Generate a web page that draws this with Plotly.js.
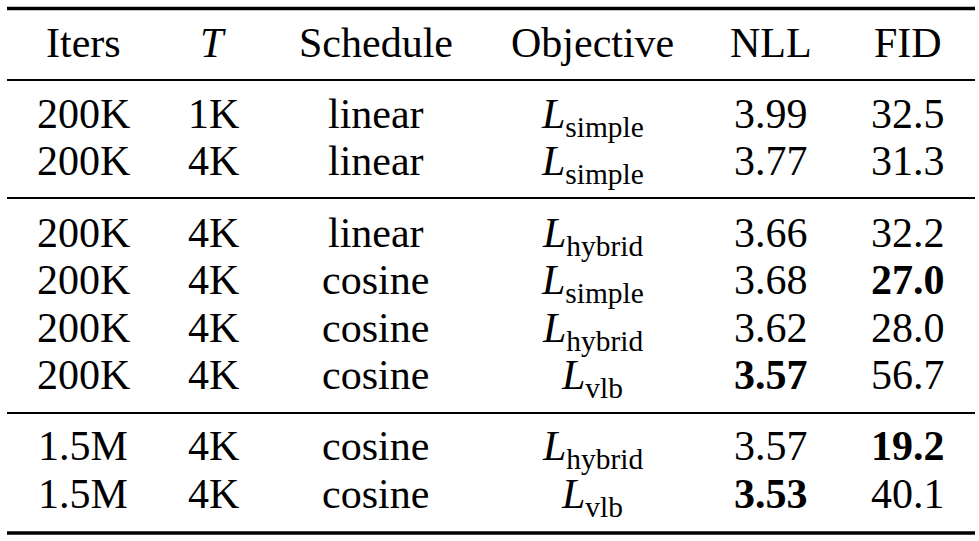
<!DOCTYPE html>
<html>
<head>
<meta charset="utf-8">
<script src="https://cdn.plot.ly/plotly-3.0.1.min.js"></script>
<style>
html,body{margin:0;padding:0;background:#fff;}
#chart{width:979px;height:541px;}
#chart svg text, #chart svg tspan { font-family: "Liberation Serif", "Times New Roman", serif !important; }
</style>
</head>
<body>
<div id="chart"></div>
<script>
// ---- data ----
var headers = ["Iters", "<i>T</i>", "Schedule", "Objective", "NLL", "FID"];
var iters = ["200K", "200K", "200K", "200K", "200K", "200K", "1.5M", "1.5M"];
var steps = ["1K", "4K", "4K", "4K", "4K", "4K", "4K", "4K"];
var schedule = ["linear", "linear", "linear", "cosine", "cosine", "cosine", "cosine", "cosine"];
var objective = ["simple", "simple", "hybrid", "simple", "hybrid", "vlb", "hybrid", "vlb"];
var nll = ["3.99", "3.77", "3.66", "3.68", "3.62", "3.57", "3.57", "3.53"];
var fid = ["32.5", "31.3", "32.2", "27.0", "28.0", "56.7", "19.2", "40.1"];
var nllBold = [false, false, false, false, false, true, false, true];
var fidBold = [false, false, false, true, false, false, true, false];
var groups = [0, 0, 1, 1, 1, 1, 2, 2];

// ---- layout helpers ----
var colX = [83, 213, 375.5, 592, 771, 908];
// header at 0; rows at 1.5, 2.5, 4..7, 8.5, 9.5
var rowY = groups.map(function (g, i) { return i + 1.5 + 0.5 * g; });
function b(s, flag) { return flag ? "<b>" + s + "</b>" : s; }
var cols = [
  iters,
  steps,
  schedule,
  objective.map(function (o) { return "<i>L</i><sub>" + o + "</sub>"; }),
  nll.map(function (v, i) { return b(v, nllBold[i]); }),
  fid.map(function (v, i) { return b(v, fidBold[i]); })
];

var FONT = "Liberation Serif";
function cell(x, y, t) {
  return { xref: "x", yref: "y", x: x, y: y, text: t, showarrow: false,
           xanchor: "center", yanchor: "top", borderpad: 0,
           font: { family: FONT, size: 42, color: "#000" } };
}
var ann = [];
headers.forEach(function (h, c) { ann.push(cell(colX[c], 0, h)); });
cols.forEach(function (col, c) {
  col.forEach(function (t, r) { ann.push(cell(colX[c], rowY[r], t)); });
});

function rule(y, w) {
  return { type: "line", xref: "x", yref: "y", x0: 7, x1: 975, y0: y, y1: y,
           line: { color: "#000", width: w } };
}
var layout = {
  width: 979, height: 541,
  margin: { l: 0, r: 0, t: 0, b: 0 },
  paper_bgcolor: "#fff", plot_bgcolor: "#fff",
  font: { family: FONT, color: "#000" },
  xaxis: { range: [0, 979], visible: false, fixedrange: true },
  yaxis: { range: [10.998, -0.3916], visible: false, fixedrange: true },
  annotations: ann,
  shapes: [rule(-0.2126, 3.5), rule(1.2926, 2), rule(3.7768, 2), rule(8.3032, 2), rule(10.8295, 3.5)],
  showlegend: false
};
Plotly.newPlot("chart", [], layout, { displayModeBar: false, staticPlot: true });
</script>
</body>
</html>
